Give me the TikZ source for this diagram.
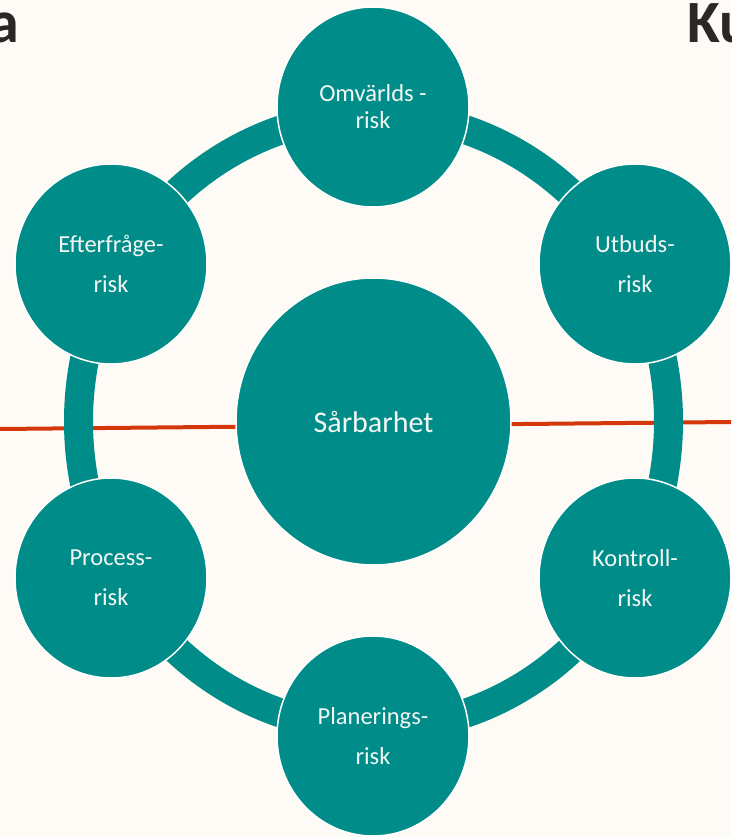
\documentclass[tikz,border=0pt]{standalone}
\usepackage{fontspec}
\setmainfont{Carlito}
\usepackage{xcolor}
\usetikzlibrary{shapes.geometric}
\definecolor{riskteal}{HTML}{008C88}
\definecolor{riskred}{HTML}{D4380A}
\definecolor{paper}{HTML}{FEFBF6}
\definecolor{titledark}{HTML}{2B2725}
\definecolor{riskwhite}{HTML}{F2F7F5}

\begin{document}
\begin{tikzpicture}[x=1pt, y=-1pt, line cap=round, line join=round,
    riskbubble/.style={ellipse, draw=white, line width=1.5pt, fill=riskteal,
      minimum width=192pt, minimum height=200pt, inner sep=0pt,
      text=riskwhite, align=center, font=\fontsize{24.5}{27}\selectfont},
    corebubble/.style={riskbubble, minimum width=275pt, minimum height=287pt,
      font=\fontsize{30}{34}\selectfont},
    ring/.style={draw=riskteal, line width=29pt},
    redline/.style={draw=riskred, line width=4pt, line cap=butt},
    titlebit/.style={inner sep=0pt, text=titledark,
      font=\fontsize{60}{66}\selectfont\bfseries}]
  %--- page
    \fill[paper] (0,0) rectangle (731,837);
    \useasboundingbox (0,0) rectangle (731,837);
    \clip (0,0) rectangle (731,837);
  %--- title fragments
    \node[titlebit, anchor=base east] (titleL) at (19,43) {a};
    \node[titlebit, anchor=base west] (titleR) at (687,43) {Ku};
  %--- red line
    \coordinate (lineW) at (0,429);
    \coordinate (lineE) at (731,422);
    \draw[redline] (lineW) -- (lineE);
  %--- ring
    \coordinate (hub) at (373.5,421.5);
    \draw[ring] (hub) ellipse [x radius=295pt, y radius=307pt];
  %--- centre
    \node[corebubble] (sarbarhet) at (hub) {Sårbarhet};
  %--- satellites
    \node[riskbubble] (omvarld) at (373,107) {Omvärlds -\\risk};
    \node[riskbubble] (utbud) at (635,264) {Utbuds-\\[13pt]risk};
    \node[riskbubble] (kontroll) at (635,578) {Kontroll-\\[13pt]risk};
    \node[riskbubble] (planering) at (373,736) {Planerings-\\[13pt]risk};
    \node[riskbubble] (process) at (111,578) {Process-\\[13pt]risk};
    \node[riskbubble] (efterfraga) at (111,264) {Efterfråge-\\[13pt]risk};
\end{tikzpicture}
\end{document}
